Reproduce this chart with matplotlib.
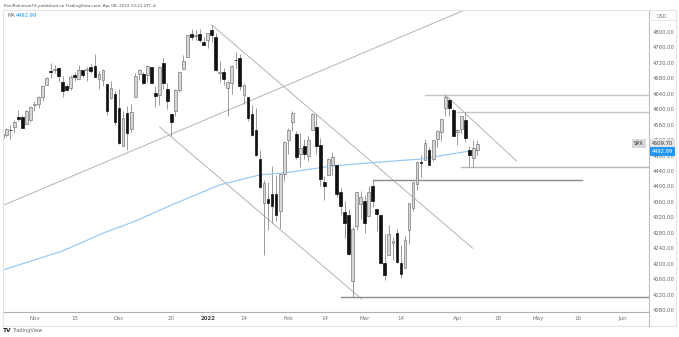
import matplotlib.pyplot as plt
from matplotlib.lines import Line2D
import numpy as np

# SPX daily bars, Oct 20 2021 - Apr 08 2022
dates = ['2021-10-20', '2021-10-21', '2021-10-22', '2021-10-25', '2021-10-26', '2021-10-27', '2021-10-28', '2021-10-29',
         '2021-11-01', '2021-11-02', '2021-11-03', '2021-11-04', '2021-11-05', '2021-11-08', '2021-11-09', '2021-11-10',
         '2021-11-11', '2021-11-12', '2021-11-15', '2021-11-16', '2021-11-17', '2021-11-18', '2021-11-19', '2021-11-22',
         '2021-11-23', '2021-11-24', '2021-11-26', '2021-11-29', '2021-11-30',
         '2021-12-01', '2021-12-02', '2021-12-03', '2021-12-06', '2021-12-07', '2021-12-08', '2021-12-09', '2021-12-10',
         '2021-12-13', '2021-12-14', '2021-12-15', '2021-12-16', '2021-12-17', '2021-12-20', '2021-12-21', '2021-12-22',
         '2021-12-23', '2021-12-27', '2021-12-28', '2021-12-29', '2021-12-30', '2021-12-31',
         '2022-01-03', '2022-01-04', '2022-01-05', '2022-01-06', '2022-01-07', '2022-01-10', '2022-01-11', '2022-01-12',
         '2022-01-13', '2022-01-14', '2022-01-18', '2022-01-19', '2022-01-20', '2022-01-21', '2022-01-24', '2022-01-25',
         '2022-01-26', '2022-01-27', '2022-01-28', '2022-01-31',
         '2022-02-01', '2022-02-02', '2022-02-03', '2022-02-04', '2022-02-07', '2022-02-08', '2022-02-09', '2022-02-10',
         '2022-02-11', '2022-02-14', '2022-02-15', '2022-02-16', '2022-02-17', '2022-02-18', '2022-02-22', '2022-02-23',
         '2022-02-24', '2022-02-25', '2022-02-28',
         '2022-03-01', '2022-03-02', '2022-03-03', '2022-03-04', '2022-03-07', '2022-03-08', '2022-03-09', '2022-03-10',
         '2022-03-11', '2022-03-14', '2022-03-15', '2022-03-16', '2022-03-17', '2022-03-18', '2022-03-21', '2022-03-22',
         '2022-03-23', '2022-03-24', '2022-03-25', '2022-03-28', '2022-03-29', '2022-03-30', '2022-03-31',
         '2022-04-01', '2022-04-04', '2022-04-05', '2022-04-06', '2022-04-07', '2022-04-08']

opens = [4524.4, 4532.2, 4546.1, 4553.7, 4578.7, 4580.2, 4562.8, 4572.9,
         4610.6, 4613.3, 4630.7, 4662.9, 4699.3, 4701.5, 4707.3, 4670.3,
         4659.4, 4655.2, 4689.3, 4679.4, 4701.5, 4700.7, 4708.4, 4712.0,
         4678.5, 4675.8, 4664.6, 4628.8, 4640.2,
         4602.8, 4504.7, 4589.5, 4548.4, 4632.0, 4690.9, 4691.0, 4687.6,
         4710.3, 4642.0, 4636.5, 4719.1, 4652.5, 4587.9, 4595.0, 4650.4,
         4704.0, 4734.0, 4795.5, 4788.6, 4794.2, 4775.2,
         4778.1, 4804.5, 4788.0, 4693.4, 4697.7, 4655.3, 4669.1, 4728.6,
         4733.6, 4638.0, 4632.2, 4588.0, 4547.4, 4471.4, 4356.3, 4366.6,
         4380.6, 4380.6, 4336.2, 4431.8,
         4519.6, 4566.4, 4535.4, 4482.8, 4505.8, 4480.0, 4547.0, 4553.2,
         4506.3, 4412.6, 4429.3, 4455.8, 4456.1, 4385.4, 4332.7, 4324.9,
         4155.8, 4298.4, 4354.2,
         4363.1, 4322.6, 4401.3, 4342.1, 4327.0, 4202.7, 4223.1, 4252.6,
         4279.5, 4202.8, 4188.8, 4288.1, 4345.1, 4407.3, 4462.4, 4469.1,
         4493.1, 4470.0, 4522.7, 4541.1, 4602.9, 4624.2, 4599.0,
         4540.3, 4548.0, 4572.5, 4494.2, 4474.7, 4494.2]

highs = [4540.9, 4551.4, 4559.7, 4572.6, 4598.5, 4584.6, 4597.6, 4608.1,
         4620.3, 4635.2, 4663.5, 4683.0, 4718.5, 4714.9, 4708.5, 4684.9,
         4664.6, 4688.5, 4697.4, 4714.9, 4701.5, 4708.8, 4717.8, 4743.8,
         4699.4, 4702.9, 4664.6, 4673.0, 4646.0,
         4652.9, 4595.5, 4608.0, 4612.6, 4694.0, 4705.1, 4695.3, 4713.6,
         4710.3, 4660.5, 4712.6, 4732.0, 4666.7, 4587.9, 4651.1, 4697.7,
         4740.7, 4791.5, 4807.0, 4804.0, 4808.9, 4786.8,
         4796.6, 4818.6, 4797.7, 4725.0, 4708.0, 4673.0, 4714.1, 4748.8,
         4744.1, 4665.1, 4632.2, 4611.6, 4602.1, 4494.5, 4417.4, 4411.0,
         4453.2, 4428.7, 4432.7, 4516.9,
         4550.5, 4595.3, 4542.9, 4539.7, 4521.9, 4531.3, 4590.0, 4588.9,
         4526.3, 4426.2, 4472.8, 4489.6, 4456.1, 4394.8, 4362.1, 4341.5,
         4294.7, 4385.3, 4388.8,
         4378.5, 4401.5, 4416.8, 4342.1, 4327.0, 4276.9, 4299.4, 4268.3,
         4291.0, 4247.6, 4271.1, 4358.0, 4412.7, 4465.4, 4481.8, 4522.0,
         4501.1, 4520.6, 4546.0, 4575.7, 4637.3, 4627.8, 4603.1,
         4548.7, 4583.5, 4593.5, 4503.9, 4521.2, 4520.4]

lows = [4519.9, 4526.9, 4524.0, 4537.4, 4569.2, 4551.7, 4562.8, 4567.6,
        4595.1, 4604.0, 4621.2, 4662.6, 4681.3, 4694.4, 4670.9, 4630.9,
        4648.3, 4650.4, 4672.9, 4679.4, 4684.4, 4672.8, 4694.2, 4682.2,
        4652.7, 4659.9, 4585.4, 4625.3, 4560.0,
        4510.3, 4504.7, 4495.1, 4540.5, 4632.0, 4674.5, 4666.0, 4670.2,
        4667.6, 4606.5, 4611.2, 4651.9, 4600.2, 4531.1, 4583.2, 4645.5,
        4704.0, 4734.0, 4780.0, 4778.1, 4775.3, 4765.8,
        4758.2, 4774.3, 4699.4, 4671.3, 4662.7, 4582.2, 4638.3, 4706.7,
        4650.3, 4614.8, 4568.7, 4530.2, 4478.0, 4395.3, 4222.6, 4287.1,
        4304.8, 4309.5, 4292.5, 4414.0,
        4483.5, 4544.3, 4470.4, 4451.5, 4471.5, 4465.4, 4547.0, 4484.3,
        4401.4, 4364.8, 4429.3, 4429.7, 4373.8, 4327.2, 4267.1, 4221.5,
        4114.7, 4286.8, 4315.1,
        4279.5, 4322.6, 4345.6, 4285.0, 4199.9, 4157.9, 4223.1, 4209.8,
        4200.5, 4161.7, 4187.9, 4252.0, 4335.7, 4390.6, 4424.3, 4469.1,
        4455.8, 4465.2, 4501.1, 4517.7, 4581.3, 4581.3, 4530.4,
        4507.6, 4539.2, 4514.2, 4450.0, 4450.3, 4481.0]

closes = [4536.2, 4549.8, 4544.9, 4566.5, 4574.8, 4551.7, 4596.4, 4605.4,
          4613.7, 4630.7, 4660.6, 4680.1, 4697.5, 4701.7, 4685.3, 4646.7,
          4649.3, 4682.9, 4682.8, 4700.9, 4688.7, 4704.5, 4698.0, 4682.9,
          4690.7, 4701.5, 4594.6, 4655.3, 4567.0,
          4513.0, 4577.1, 4538.4, 4591.7, 4686.8, 4701.2, 4667.5, 4712.0,
          4669.0, 4634.1, 4709.9, 4668.7, 4620.6, 4568.0, 4649.2, 4696.6,
          4725.8, 4791.2, 4786.4, 4793.1, 4778.7, 4766.2,
          4796.6, 4793.5, 4700.6, 4696.1, 4677.0, 4670.3, 4713.1, 4726.4,
          4659.0, 4662.9, 4577.1, 4532.8, 4482.7, 4397.9, 4410.1, 4356.5,
          4349.9, 4326.5, 4431.9, 4515.6,
          4546.5, 4589.4, 4477.4, 4500.5, 4483.9, 4521.5, 4587.2, 4504.1,
          4418.6, 4401.7, 4471.1, 4475.0, 4380.3, 4348.9, 4304.8, 4225.5,
          4288.7, 4384.7, 4373.9,
          4306.3, 4386.5, 4363.5, 4328.9, 4201.1, 4170.7, 4277.9, 4259.5,
          4204.3, 4173.1, 4262.5, 4357.9, 4411.7, 4463.1, 4461.2, 4511.6,
          4456.2, 4520.2, 4543.1, 4575.5, 4631.6, 4602.5, 4530.4,
          4545.9, 4582.6, 4525.1, 4481.2, 4500.2, 4509.7]

# 200-day moving average, read at a handful of bars (bar index, value)
ma_idx = [-8, 7, 17, 25, 34, 46, 56, 62, 74, 83, 96, 107, 110]
ma_val = [4183, 4233, 4279, 4310, 4352, 4404, 4430, 4435, 4453, 4461, 4471, 4490, 4492.99]

# time axis ticks (bar index, label)
tick_idx = [0, 10, 21, 34, 43, 52, 63, 72, 82, 91, 105, 115, 125, 135, 146]
tick_lbl = ['Nov', '15', 'Dec', '20', '2022', '14', 'Feb', '14', 'Mar', '14',
            'Apr', '18', 'May', '16', 'Jun']
price_ticks = np.arange(4080, 4801, 40)

# drawn trendlines ((i0, p0), (i1, p1)) and horizontal levels (price, start, end)
diag_lines = [((-8.0, 4350), (112.0, 4880)),
              ((44.0, 4818.6), (108.8, 4240)),
              ((31.1, 4554), (81.3, 4108)),
              ((102.0, 4637.3), (119.7, 4466))]
levels = [(4114.7, 76.0, 160, '#8c8c8c'),
          (4416.8, 84.0, 135.9, '#8c8c8c'),
          (4637.3, 96.9, 160, '#c4c4c4'),
          (4593.5, 104.8, 160, '#c4c4c4'),
          (4450.0, 105.8, 160, '#b8b8b8')]

last_price = 4509.70
ma_last = 4492.99

W, H = 679, 337
fig = plt.figure(figsize=(W / 100, H / 100), dpi=100)
fig.patch.set_facecolor('white')

ax_l, ax_r, ax_t, ax_b = 3, 649, 11, 312
ax = fig.add_axes([ax_l / W, 1 - ax_b / H, (ax_r - ax_l) / W, (ax_b - ax_t) / H])

x = np.arange(len(dates)) - 8
o = np.array(opens)
h = np.array(highs)
l = np.array(lows)
c = np.array(closes)
up = c >= o

ax.vlines(x, l, h, color='#8a8a8a', lw=0.6, zorder=2)
body_lo = np.minimum(o, c)
body_h = np.maximum(np.abs(c - o), 1.5)
ax.bar(x[up], body_h[up], bottom=body_lo[up], width=0.68,
       facecolor='#d6d6d6', edgecolor='#7c7c7c', linewidth=0.5, zorder=3)
ax.bar(x[~up], body_h[~up], bottom=body_lo[~up], width=0.68,
       facecolor='#111111', edgecolor='#111111', linewidth=0.5, zorder=3)

ax.plot(ma_idx, ma_val, color='#9acbf4', lw=0.9, zorder=2.5)

for (i0, p0), (i1, p1) in diag_lines:
    ax.plot([i0, i1], [p0, p1], color='#b4b4b4', lw=0.7, zorder=1.5)
for p, i0, i1, col in levels:
    ax.plot([i0, i1], [p, p], color=col, lw=1.0, zorder=1.5)

ax.set_xlim(-7.82, 152.6)
ax.set_ylim(4074.8, 4854.4)

ax.set_xticks(tick_idx)
ax.set_xticklabels(tick_lbl)
for t in ax.get_xticklabels():
    t.set_color('#777777')
    t.set_fontsize(4)
    if t.get_text() == '2022':
        t.set_fontweight('bold')
        t.set_color('#444444')
ax.tick_params(axis='x', length=0, pad=2.6)

ax.yaxis.tick_right()
ax.set_yticks(price_ticks)
ax.set_yticklabels([f'{v:.2f}' for v in price_ticks])
ax.tick_params(axis='y', length=0, pad=2.4, labelsize=3.8, labelcolor='#666666')

for side in ['top', 'left']:
    ax.spines[side].set_visible(False)
ax.spines['bottom'].set_color('#b0b0b0')
ax.spines['bottom'].set_linewidth(0.8)
ax.spines['right'].set_color('#bdbdbd')
ax.spines['right'].set_linewidth(0.8)

# price and MA tags on the scale
tag = dict(xycoords=('axes fraction', 'data'), fontsize=3.7, va='center',
           annotation_clip=False, zorder=10)
ax.annotate(f'{last_price:.2f}', xy=(1.004, last_price + 2), ha='left', color='#333333',
            bbox=dict(boxstyle='square,pad=0.35', fc='#e3e3e3', ec='none'), **tag)
ax.annotate(f'{ma_last:.2f}', xy=(1.004, ma_last - 2), ha='left', color='white',
            bbox=dict(boxstyle='square,pad=0.35', fc='#2196f3', ec='none'), **tag)
ax.annotate('SPX', xy=(0.992, last_price + 2), ha='right', color='#333333',
            bbox=dict(boxstyle='square,pad=0.35', fc='#d9d9d9', ec='none'), **tag)

# outer frame of the chart pane
fig.add_artist(Line2D([3 / W, 676 / W, 676 / W, 3 / W, 3 / W],
                      [1 - 10 / H, 1 - 10 / H, 1 - 326 / H, 1 - 326 / H, 1 - 10 / H],
                      color='#e4e4e4', lw=0.8))
fig.add_artist(Line2D([649 / W, 649 / W], [1 - 312 / H, 1 - 326 / H], color='#bdbdbd', lw=0.8))
fig.add_artist(Line2D([649 / W, 676 / W], [1 - 20 / H, 1 - 20 / H], color='#e4e4e4', lw=0.6))

fig.text(4 / W, 1 - 6 / H, 'PaulRobinsonFX published on TradingView.com, Apr 08, 2022 13:21 UTC-4',
         fontsize=2.95, color='#555555', va='center', ha='left')
fig.text(7 / W, 1 - 15.5 / H, 'MA', fontsize=3.7, color='#666666', va='center', ha='left')
fig.text(15.5 / W, 1 - 15.5 / H, f'{ma_last:.2f}', fontsize=3.7, color='#2196f3', va='center', ha='left')
fig.text(662 / W, 1 - 16 / H, 'USD', fontsize=3.6, color='#777777', va='center', ha='center')
fig.text(3 / W, 1 - 330.5 / H, 'TV', fontsize=4.2, color='#222222', va='center', ha='left',
         fontweight='bold')
fig.text(12.5 / W, 1 - 330.5 / H, 'TradingView', fontsize=3.6, color='#666666', va='center', ha='left')

fig.savefig('out.png', dpi=100)
